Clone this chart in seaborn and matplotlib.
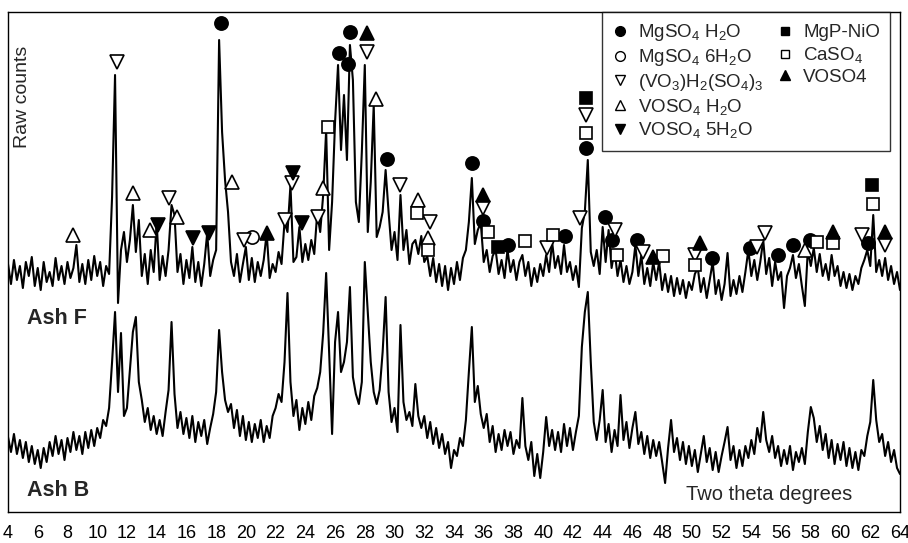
import numpy as np
import pandas as pd
import matplotlib
matplotlib.use("Agg")
import matplotlib.pyplot as plt
import seaborn as sns
from matplotlib.lines import Line2D

# two theta grid, 0.2 degree steps (4 .. 64)
theta = np.round(np.arange(4.0, 64.01, 0.2), 1)

# Ash F trace (arbitrary counts, offset upwards)
ash_f = [248, 228, 252, 232, 246,  224, 250, 236, 255, 226,  244, 222, 250, 230, 240,
         226, 254, 232, 246, 228,  250, 234, 244, 267, 230,  248, 228, 252, 232, 256,
         236, 250, 226, 246, 238,  315, 437, 209, 262, 280,  250, 272, 307, 260, 292,
         236, 258, 228, 262, 240,  290, 232, 256, 236, 262,  307, 297, 240, 258, 228,
         252, 234, 265, 230, 250,  226, 248, 279, 236, 252,  262, 472, 380, 332, 300,
         250, 236, 258, 230, 248,  265, 232, 254, 230, 250,  236, 252, 279, 234, 248,
         240, 260, 248, 290, 280,  327, 250, 255, 285, 250,  268, 252, 272, 258, 299,
         280, 317, 382, 262, 310,  390, 447, 362, 417, 352,  467, 432, 310, 290, 360,
         447, 280, 330, 407, 275,  285, 300, 342, 300, 262,  280, 252, 317, 262, 282,
         248, 268, 272, 258, 276,  250, 256, 236, 254, 230,  248, 226, 246, 222, 244,
         228, 250, 232, 254, 262,  290, 334, 268, 282, 289,  250, 262, 240, 256, 262,
         238, 252, 234, 262, 240,  252, 232, 250, 257, 236,  250, 226, 244, 230, 248,
         236, 257, 240, 270, 244,  256, 238, 267, 240, 250,  232, 246, 225, 284, 300,
         352, 260, 246, 262, 238,  285, 250, 282, 244, 262,  236, 252, 230, 246, 228,
         240, 267, 236, 257, 228,  244, 226, 250, 232, 250,  222, 238, 220, 236, 216,
         234, 218, 232, 214, 230,  222, 238, 244, 220, 234,  214, 232, 250, 218, 232,
         212, 228, 259, 216, 232,  218, 236, 220, 240, 262,  236, 252, 232, 250, 272,
         238, 254, 226, 250, 232,  240, 204, 236, 244, 257,  234, 248, 226, 206, 262,
         246, 264, 240, 258, 236,  248, 232, 257, 236, 246,  226, 240, 224, 238, 222,
         236, 228, 244, 252, 262,  246, 297, 240, 252, 236,  254, 232, 246, 228, 240,
         222]

# Ash B trace
ash_b = [75, 60, 78, 58, 72,  54, 70, 50, 66, 48,  62, 44, 64, 50, 70,
         56, 76, 58, 72, 52,  74, 60, 80, 62, 76,  58, 80, 64, 82, 66,
         84, 74, 92, 86, 104,  150, 200, 120, 179, 96,  104, 142, 180, 195, 130,
         112, 90, 104, 82, 96,  78, 92, 76, 100, 122,  190, 118, 84, 100, 78,
         94, 74, 96, 70, 90,  76, 92, 68, 84, 98,  120, 182, 140, 112, 100,
         108, 84, 102, 76, 96,  72, 90, 70, 88, 74,  92, 70, 86, 74, 96,
         104, 118, 110, 150, 219,  130, 96, 112, 82, 104,  88, 110, 92, 116, 124,
         140, 179, 239, 160, 78,  170, 200, 140, 150, 170,  225, 135, 118, 108, 130,
         250, 200, 150, 120, 108,  122, 160, 215, 120, 90,  104, 80, 187, 110, 92,
         100, 86, 128, 96, 84,  96, 74, 90, 68, 84,  64, 78, 58, 70, 44,
         62, 56, 74, 66, 92,  140, 185, 110, 126, 98,  84, 98, 70, 86, 60,
         78, 62, 82, 66, 80,  58, 72, 64, 114, 66,  52, 70, 36, 58, 34,
         60, 95, 66, 82, 62,  80, 60, 88, 66, 84,  62, 80, 96, 165, 200,
         220, 150, 90, 72, 92,  122, 70, 88, 60, 82,  66, 117, 72, 90, 64,
         84, 100, 68, 80, 58,  76, 54, 72, 56, 70,  50, 29, 64, 92, 60,
         74, 52, 70, 48, 66,  46, 62, 40, 58, 76,  50, 64, 42, 60, 40,
         56, 70, 85, 52, 66,  44, 62, 46, 66, 54,  72, 58, 84, 70, 100,
         72, 60, 76, 54, 66,  46, 62, 48, 66, 42,  60, 50, 64, 48, 80,
         105, 94, 70, 86, 62,  78, 54, 72, 48, 68,  52, 70, 46, 64, 44,
         60, 42, 62, 56, 76,  90, 132, 92, 70, 78,  56, 70, 50, 62, 44,
         38]

# phase markers (two theta, height)
mgso4_h2o_x = [18.3, 26.25, 27.0, 26.9, 29.5, 35.2, 35.95, 37.6, 41.45, 42.9, 44.15,
               44.6, 46.3, 51.35, 53.9, 55.8, 56.8, 57.95, 61.85]
mgso4_h2o_y = [489, 459, 480, 448, 353, 349, 291, 267, 276, 364, 295,
               272, 272, 254, 264, 257, 267, 272, 269]
mgso4_6h2o_x = [20.4]
mgso4_6h2o_y = [275]
vo3_x = [11.3, 14.85, 19.85, 22.6, 23.1, 24.85, 28.15, 30.35, 32.4, 35.95, 40.25,
         42.5, 42.9, 44.85, 46.7, 50.2, 54.35, 54.9, 61.45, 63.0]
vo3_y = [450, 314, 272, 292, 329, 295, 460, 327, 290, 304, 264,
         294, 397, 282, 260, 257, 265, 279, 277, 267]
voso4_h2o_x = [8.4, 12.4, 13.55, 15.35, 19.1, 25.2, 28.75, 31.55, 32.25, 57.6]
voso4_h2o_y = [277, 319, 282, 295, 330, 324, 413, 312, 274, 262]
voso4_5h2o_x = [14.1, 16.45, 17.5, 23.15, 23.75]
voso4_5h2o_y = [287, 274, 279, 339, 289]
mgp_nio_x = [36.95, 42.9, 62.15]
mgp_nio_y = [265, 414, 327]
caso4_x = [25.5, 31.5, 32.25, 36.3, 38.8, 40.65, 42.9, 44.95, 48.05, 50.2, 58.45, 59.5, 62.2]
caso4_y = [385, 299, 262, 280, 271, 277, 379, 257, 256, 247, 270, 269, 308]
voso4_x = [21.4, 28.15, 35.95, 47.4, 50.55, 59.5, 63.0]
voso4_y = [279, 479, 317, 255, 269, 280, 280]

assert len(ash_f) == len(theta) == len(ash_b)

sns.set_theme(style="white")
plt.rcParams['font.family'] = ['Liberation Sans', 'DejaVu Sans']
plt.rcParams['mathtext.fontset'] = 'custom'
plt.rcParams['mathtext.rm'] = 'Liberation Sans'
plt.rcParams['mathtext.default'] = 'regular'

df = pd.DataFrame({"theta": theta, "Ash F": ash_f, "Ash B": ash_b})

fig = plt.figure(figsize=(9.08, 5.43), dpi=100)
ax = fig.add_axes([8/908, 31/543, 892/908, 500/543])

sns.lineplot(data=df, x="theta", y="Ash F", color="black", lw=1.5, ax=ax)
sns.lineplot(data=df, x="theta", y="Ash B", color="black", lw=1.5, ax=ax)

# marker styles: (label, x, y, marker, filled, size)
phases = [
    ("MgSO$_4$ H$_2$O", mgso4_h2o_x, mgso4_h2o_y, "o", True, 9.5),
    ("MgSO$_4$ 6H$_2$O", mgso4_6h2o_x, mgso4_6h2o_y, "o", False, 9.5),
    ("(VO$_3$)H$_2$(SO$_4$)$_3$", vo3_x, vo3_y, "v", False, 9.5),
    ("VOSO$_4$ H$_2$O", voso4_h2o_x, voso4_h2o_y, "^", False, 9.5),
    ("VOSO$_4$ 5H$_2$O", voso4_5h2o_x, voso4_5h2o_y, "v", True, 9.5),
    ("MgP-NiO", mgp_nio_x, mgp_nio_y, "s", True, 8.5),
    ("CaSO$_4$", caso4_x, caso4_y, "s", False, 8.5),
    ("VOSO4", voso4_x, voso4_y, "^", True, 9.5),
]

handles = []
for label, xs, ys, mk, filled, ms in phases:
    fc = "black" if filled else "white"
    ax.plot(xs, ys, ls="none", marker=mk, ms=ms, mfc=fc, mec="black", mew=1.2, zorder=5)
    handles.append(Line2D([], [], ls="none", marker=mk, ms=ms - 2.5, mfc=fc, mec="black",
                          mew=1.0, label=label))

blank = Line2D([], [], ls="none", label=" ")
leg_handles = handles[:5] + handles[5:] + [blank, blank]
leg = ax.legend(handles=leg_handles, ncol=2, loc="upper right", bbox_to_anchor=(0.989, 1.0),
                borderaxespad=0, fontsize=13.5, frameon=True, fancybox=False,
                handlelength=0.9, handletextpad=0.5, columnspacing=0.7,
                labelspacing=0.2, borderpad=0.55)
leg.get_frame().set_edgecolor("black")
leg.get_frame().set_linewidth(1.0)
leg.set_zorder(10)

ax.set_xlim(4, 64)
ax.set_ylim(0, 500)
ax.set_xticks(range(4, 65, 2))
ax.set_yticks([])
ax.set_xlabel("")
ax.set_ylabel("")
ax.tick_params(axis="x", direction="in", length=3, pad=9, labelsize=13, colors="black")
for s in ax.spines.values():
    s.set_visible(True)
    s.set_color("black")
    s.set_linewidth(1.0)

ax.text(4.95, 415, "Raw counts", rotation=90, ha="center", va="center", fontsize=14)
ax.text(5.25, 194, "Ash F", ha="left", va="center", fontsize=15.5, fontweight="bold")
ax.text(5.25, 22, "Ash B", ha="left", va="center", fontsize=15.5, fontweight="bold")
ax.text(60.8, 17, "Two theta degrees", ha="right", va="center", fontsize=14.5)

fig.savefig("out.png", dpi=100)
